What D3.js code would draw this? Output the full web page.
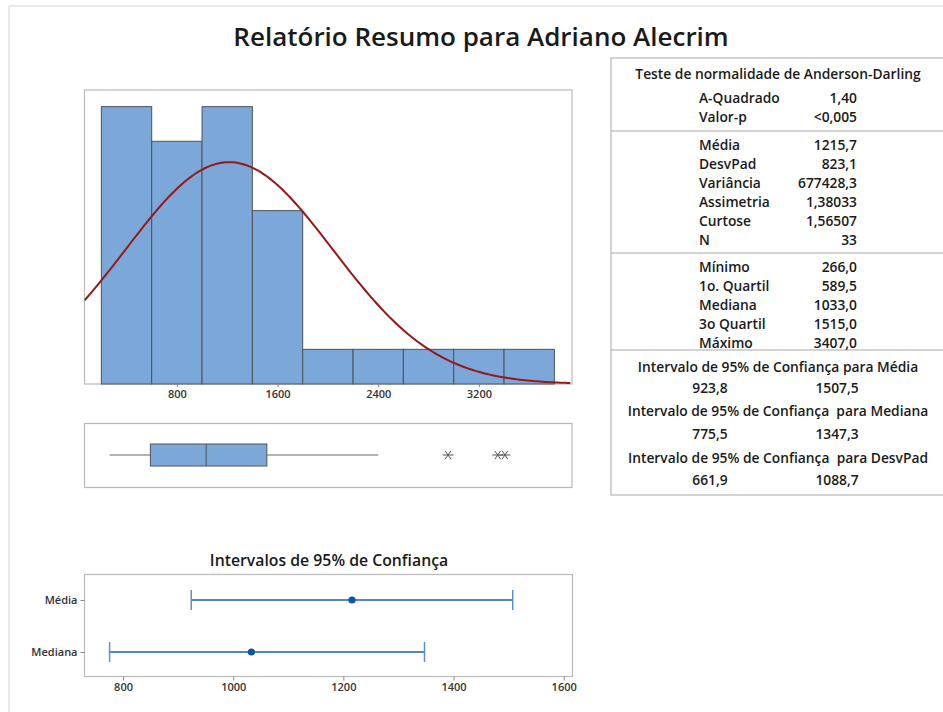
<!DOCTYPE html>
<html>
<head>
<meta charset="utf-8">
<script src="https://cdn.jsdelivr.net/npm/d3@7"></script>
<style>
  body { margin: 0; background: #fff; }
  svg text { font-family: "Open Sans", sans-serif; fill: #1a1a1a; }
</style>
</head>
<body>
<div id="chart"></div>
<script>
const width = 943, height = 712;

// histogram bins (midpoints) and counts
const binMids = [400, 800, 1200, 1600, 2000, 2400, 2800, 3200, 3600];
const binCounts = [8, 7, 8, 5, 1, 1, 1, 1, 1];
const binWidth = 400;
const histTicks = [800, 1600, 2400, 3200];

// boxplot
const boxMin = 266, boxQ1 = 589.5, boxMedian = 1033, boxQ3 = 1515, whiskerHigh = 2400;
const outliers = [2955, 3350, 3407];

// summary used for the fitted normal curve
const mean = 1215.7, sd = 823.1, n = 33;

// table text
const adTitle = "Teste de normalidade de Anderson-Darling";
const adRows = [["A-Quadrado", "1,40"], ["Valor-p", "<0,005"]];
const momentRows = [["Média", "1215,7"], ["DesvPad", "823,1"], ["Variância", "677428,3"],
  ["Assimetria", "1,38033"], ["Curtose", "1,56507"], ["N", "33"]];
const quantRows = [["Mínimo", "266,0"], ["1o. Quartil", "589,5"], ["Mediana", "1033,0"],
  ["3o Quartil", "1515,0"], ["Máximo", "3407,0"]];
const ciTitles = ["Intervalo de 95% de Confiança para Média",
  "Intervalo de 95% de Confiança  para Mediana",
  "Intervalo de 95% de Confiança  para DesvPad"];
const ciTexts = [["923,8", "1507,5"], ["775,5", "1347,3"], ["661,9", "1088,7"]];

// confidence interval chart
const ciNames = ["Média", "Mediana"];
const ciCenter = [1215.7, 1033.0];
const ciLow = [923.8, 775.5];
const ciHigh = [1507.5, 1347.3];
const ciTicks = [800, 1000, 1200, 1400, 1600];

const svg = d3.select("#chart").append("svg")
  .attr("width", width).attr("height", height);

// outer page lines
svg.append("path")
  .attr("d", `M9,${height} V6 H${width}`)
  .attr("fill", "none").attr("stroke", "#d4d4d4");

svg.append("text")
  .attr("x", 481).attr("y", 46)
  .attr("text-anchor", "middle")
  .attr("font-size", 26).attr("font-weight", 600)
  .text("Relatório Resumo para Adriano Alecrim");

// ---------- histogram ----------
const x = d3.scaleLinear().domain([66, 3940]).range([84.5, 572]);
const y = d3.scaleLinear().domain([0, 8.48]).range([384, 90]);

svg.append("defs").append("clipPath").attr("id", "histClip")
  .append("rect").attr("x", 84.5).attr("y", 90).attr("width", 487.5).attr("height", 294);

svg.append("rect")
  .attr("x", 84.5).attr("y", 90).attr("width", 487.5).attr("height", 294)
  .attr("fill", "none").attr("stroke", "#b9b9b9").attr("stroke-width", 1.2);

svg.append("g").selectAll("rect")
  .data(binMids)
  .join("rect")
    .attr("x", d => x(d - binWidth / 2))
    .attr("width", d => x(d + binWidth / 2) - x(d - binWidth / 2))
    .attr("y", (d, i) => y(binCounts[i]))
    .attr("height", (d, i) => y(0) - y(binCounts[i]))
    .attr("fill", "#7ba7d9")
    .attr("stroke", "#4f5257").attr("stroke-width", 1);

const scaleK = n * binWidth / (sd * Math.sqrt(2 * Math.PI));
const curveX = d3.range(66, 3941, 20);
svg.append("path")
  .datum(curveX)
  .attr("clip-path", "url(#histClip)")
  .attr("fill", "none").attr("stroke", "#961818").attr("stroke-width", 2)
  .attr("d", d3.line()
    .x(d => x(d))
    .y(d => y(scaleK * Math.exp(-0.5 * Math.pow((d - mean) / sd, 2)))));

const histAxis = svg.append("g")
  .attr("transform", "translate(0,384)")
  .call(d3.axisBottom(x).tickValues(histTicks).tickFormat(d3.format("d"))
    .tickSize(3).tickPadding(3));
histAxis.select(".domain").remove();
histAxis.selectAll("line").attr("stroke", "#888");
histAxis.selectAll("text").attr("font-size", 11).attr("font-weight", 600)
  .style("fill", "#333").style("font-family", "Open Sans");

// ---------- boxplot ----------
const by = 455, bh = 11;
svg.append("rect")
  .attr("x", 84.5).attr("y", 423.5).attr("width", 487.5).attr("height", 64)
  .attr("fill", "none").attr("stroke", "#b9b9b9").attr("stroke-width", 1.2);

svg.append("line")
  .attr("x1", x(boxMin)).attr("x2", x(boxQ1)).attr("y1", by).attr("y2", by)
  .attr("stroke", "#666");
svg.append("line")
  .attr("x1", x(boxQ3)).attr("x2", x(whiskerHigh)).attr("y1", by).attr("y2", by)
  .attr("stroke", "#666");
svg.append("rect")
  .attr("x", x(boxQ1)).attr("y", by - bh)
  .attr("width", x(boxQ3) - x(boxQ1)).attr("height", 2 * bh)
  .attr("fill", "#7ba7d9").attr("stroke", "#4f5257");
svg.append("line")
  .attr("x1", x(boxMedian)).attr("x2", x(boxMedian))
  .attr("y1", by - bh).attr("y2", by + bh)
  .attr("stroke", "#4f5257");

// asterisk marker: horizontal bar plus an X
const asterisk = {
  draw(ctx, size) {
    const r = Math.sqrt(size) / 2, h = r * 0.75;
    ctx.moveTo(-r, 0); ctx.lineTo(r, 0);
    ctx.moveTo(-h * 0.7, -h); ctx.lineTo(h * 0.7, h);
    ctx.moveTo(-h * 0.7, h); ctx.lineTo(h * 0.7, -h);
  }
};
svg.append("g").selectAll("path")
  .data(outliers)
  .join("path")
    .attr("transform", d => `translate(${x(d)},${by})`)
    .attr("d", d3.symbol(asterisk, 121))
    .attr("fill", "none").attr("stroke", "#555").attr("stroke-width", 1);

// ---------- summary table ----------
const fs = 13.8;
const tbl = svg.append("g");
tbl.append("rect")
  .attr("x", 611).attr("y", 58).attr("width", 345).attr("height", 437)
  .attr("fill", "none").attr("stroke", "#a8a8a8");
[131, 253, 350].forEach(yy => {
  tbl.append("line").attr("x1", 611).attr("x2", width).attr("y1", yy).attr("y2", yy)
    .attr("stroke", "#a8a8a8");
});

const labX = 699, valX = 857, midX = 778;
function addRow(lbl, val, yy) {
  tbl.append("text").attr("x", labX).attr("y", yy).attr("dy", "0.35em")
    .attr("font-size", fs).attr("font-weight", 600).text(lbl);
  tbl.append("text").attr("x", valX).attr("y", yy).attr("dy", "0.35em")
    .attr("text-anchor", "end").attr("font-size", fs).attr("font-weight", 600).text(val);
}
tbl.append("text").attr("x", midX).attr("y", 74).attr("dy", "0.35em")
  .attr("text-anchor", "middle").attr("font-size", fs).attr("font-weight", 600).text(adTitle);
adRows.forEach((r, i) => addRow(r[0], r[1], 98 + i * 19));
momentRows.forEach((r, i) => addRow(r[0], r[1], 145 + i * 19));
quantRows.forEach((r, i) => addRow(r[0], r[1], 267 + i * 19));

const ciTitleY = [367, 411, 458];
const ciValY = [388, 434, 480];
ciTitles.forEach((t, i) => {
  tbl.append("text").attr("x", midX).attr("y", ciTitleY[i]).attr("dy", "0.35em")
    .attr("text-anchor", "middle").attr("font-size", fs).attr("font-weight", 600)
    .style("white-space", "pre").text(t);
  tbl.append("text").attr("x", 710).attr("y", ciValY[i]).attr("dy", "0.35em")
    .attr("text-anchor", "middle").attr("font-size", fs).attr("font-weight", 600)
    .text(ciTexts[i][0]);
  tbl.append("text").attr("x", 837).attr("y", ciValY[i]).attr("dy", "0.35em")
    .attr("text-anchor", "middle").attr("font-size", fs).attr("font-weight", 600)
    .text(ciTexts[i][1]);
});

// ---------- confidence interval chart ----------
const cx = d3.scaleLinear().domain([730, 1616]).range([84.5, 572.5]);
const cy = d3.scalePoint().domain(ciNames).range([600, 652]);

svg.append("text")
  .attr("x", 329).attr("y", 566)
  .attr("text-anchor", "middle").attr("font-size", 15.8).attr("font-weight", 600)
  .text("Intervalos de 95% de Confiança");

svg.append("rect")
  .attr("x", 84.5).attr("y", 574.5).attr("width", 488).attr("height", 102)
  .attr("fill", "none").attr("stroke", "#b9b9b9").attr("stroke-width", 1.2);

const cxAxis = svg.append("g")
  .attr("transform", "translate(0,676.5)")
  .call(d3.axisBottom(cx).tickValues(ciTicks).tickFormat(d3.format("d")).tickSize(4).tickPadding(3));
cxAxis.select(".domain").remove();
const cyAxis = svg.append("g")
  .attr("transform", "translate(84.5,0)")
  .call(d3.axisLeft(cy).tickSize(4).tickPadding(3));
cyAxis.select(".domain").remove();
[cxAxis, cyAxis].forEach(a => {
  a.selectAll("line").attr("stroke", "#888");
  a.selectAll("text").attr("font-size", 11).attr("font-weight", 600)
    .style("fill", "#333").style("font-family", "Open Sans");
});

const ciG = svg.append("g").selectAll("g")
  .data(ciNames)
  .join("g");
ciG.append("line")
  .attr("x1", (d, i) => cx(ciLow[i])).attr("x2", (d, i) => cx(ciHigh[i]))
  .attr("y1", d => cy(d)).attr("y2", d => cy(d))
  .attr("stroke", "#1d5eaa").attr("stroke-width", 1.5);
ciG.append("line")
  .attr("x1", (d, i) => cx(ciLow[i])).attr("x2", (d, i) => cx(ciLow[i]))
  .attr("y1", d => cy(d) - 10).attr("y2", d => cy(d) + 10)
  .attr("stroke", "#5b8fcf").attr("stroke-width", 1.5);
ciG.append("line")
  .attr("x1", (d, i) => cx(ciHigh[i])).attr("x2", (d, i) => cx(ciHigh[i]))
  .attr("y1", d => cy(d) - 10).attr("y2", d => cy(d) + 10)
  .attr("stroke", "#5b8fcf").attr("stroke-width", 1.5);
ciG.append("circle")
  .attr("cx", (d, i) => cx(ciCenter[i])).attr("cy", d => cy(d))
  .attr("r", 3.6).attr("fill", "#0b56a8");
</script>
</body>
</html>
